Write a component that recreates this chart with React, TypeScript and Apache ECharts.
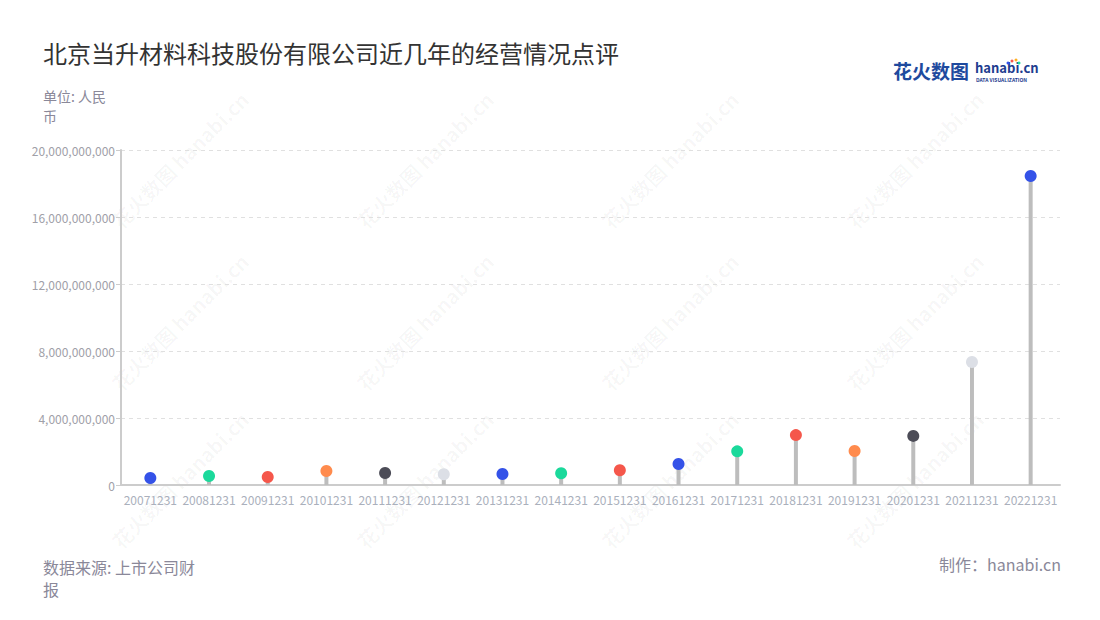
import React, { useEffect, useRef } from "react";
import * as echarts from "echarts";

const categories = ["20071231","20081231","20091231","20101231","20111231","20121231","20131231","20141231","20151231","20161231","20171231","20181231","20191231","20201231","20211231","20221231"];
const values = [0.42e9, 0.54e9, 0.48e9, 0.84e9, 0.72e9, 0.64e9, 0.66e9, 0.70e9, 0.88e9, 1.25e9, 2.01e9, 2.98e9, 2.03e9, 2.93e9, 7.34e9, 18.45e9];
const palette = ["#3452e8", "#1bd99b", "#f5574b", "#ff8b4d", "#4c4c57", "#dcdfe6", "#3452e8", "#1bd99b", "#f5574b"];
const yTicks = { min: 0, max: 20e9, interval: 4e9 };
const titleText = "北京当升材料科技股份有限公司近几年的经营情况点评";
const unitText = "单位: 人民\n币";
const sourceText = "数据来源: 上市公司财\n报";
const makerText = "制作：hanabi.cn";

const FONT = "'Noto Sans CJK SC', 'Noto Sans', sans-serif";

export default function App() {
  const ref = useRef<HTMLDivElement>(null);
  useEffect(() => {
    if (!ref.current) return;
    const chart = echarts.init(ref.current, null, { renderer: "svg" });
    const wmX = [180, 425, 670, 915];
    const wmY = [160, 322, 480];
    const watermarks: any[] = [];
    wmY.forEach((y) =>
      wmX.forEach((x) => {
        watermarks.push({
          type: "text",
          x,
          y,
          rotation: Math.PI / 4,
          z: 0,
          silent: true,
          style: {
            text: "花火数图 hanabi.cn",
            font: `bold 20px ${FONT}`,
            fill: "rgba(0,0,0,0.035)",
            align: "center",
            verticalAlign: "middle",
          },
        });
      })
    );
    const option: any = {
      animation: false,
      backgroundColor: "#fff",
      textStyle: { fontFamily: FONT },
      grid: { left: 121, right: 40, top: 150, bottom: 135 },
      xAxis: {
        type: "category",
        data: categories,
        boundaryGap: true,
        axisLine: { lineStyle: { color: "#cccccc", width: 2 } },
        axisTick: { alignWithLabel: true, length: 6, lineStyle: { color: "#cccccc" } },
        axisLabel: { color: "#aab0bc", fontSize: 12, margin: 8, interval: 0, fontFamily: FONT },
      },
      yAxis: {
        type: "value",
        min: yTicks.min,
        max: yTicks.max,
        interval: yTicks.interval,
        axisLine: { show: true, lineStyle: { color: "#cccccc", width: 2 } },
        axisTick: { show: true, length: 5, lineStyle: { color: "#cccccc" } },
        axisLabel: {
          color: "#a0a0a8",
          fontSize: 12,
          margin: 6,
          fontFamily: FONT,
          formatter: (v: number) => v.toLocaleString("en-US"),
        },
        splitLine: { lineStyle: { color: "#e0e0e0", type: [4, 4] } },
      },
      series: [
        {
          type: "bar",
          data: values,
          barWidth: 4,
          itemStyle: { color: "#bdbdbd" },
          z: 2,
        },
        {
          type: "scatter",
          data: values.map((v, i) => ({ value: v, itemStyle: { color: palette[i % palette.length], opacity: 1 } })),
          symbol: "circle",
          symbolSize: 12,
          itemStyle: { opacity: 1 },
          z: 3,
        },
      ],
      graphic: [
        ...watermarks,
        {
          type: "text",
          left: 43,
          top: 40,
          style: { text: titleText, font: `24px ${FONT}`, fill: "#333" },
        },
        {
          type: "text",
          left: 43,
          top: 86,
          style: { text: unitText, font: `14px ${FONT}`, fill: "#8a8899", lineHeight: 20 },
        },
        {
          type: "text",
          left: 43,
          top: 556,
          style: { text: sourceText, font: `16px ${FONT}`, fill: "#8a8899", lineHeight: 22 },
        },
        {
          type: "text",
          right: 39,
          top: 556,
          style: { text: makerText, font: `16px ${FONT}`, fill: "#8a8899" },
        },
        {
          type: "text",
          left: 893,
          top: 61,
          style: { text: "花火数图", font: `bold 19px ${FONT}`, fill: "#1e4a9e" },
        },
        {
          type: "text",
          left: 975,
          top: 61,
          style: { text: "hanabi.cn", font: `bold 13px ${FONT}`, fill: "#1e3d8f" },
        },
        {
          type: "text",
          left: 976,
          top: 77,
          style: { text: "DATA VISUALIZATION", font: `bold 5px ${FONT}`, fill: "#1e3d8f" },
        },
        { type: "circle", shape: { cx: 1012, cy: 61, r: 1.5 }, style: { fill: "#f5574b" } },
        { type: "circle", shape: { cx: 1016, cy: 60, r: 1.5 }, style: { fill: "#ffb020" } },
        { type: "circle", shape: { cx: 1019, cy: 63, r: 1.5 }, style: { fill: "#1bd99b" } },
        { type: "circle", shape: { cx: 1008, cy: 63, r: 1.5 }, style: { fill: "#3452e8" } },
      ],
    };
    chart.setOption(option);
    return () => chart.dispose();
  }, []);
  return (
    <div
      ref={ref}
      style={{ position: "fixed", left: 0, top: 0, width: 1100, height: 620, background: "#fff" }}
    />
  );
}
